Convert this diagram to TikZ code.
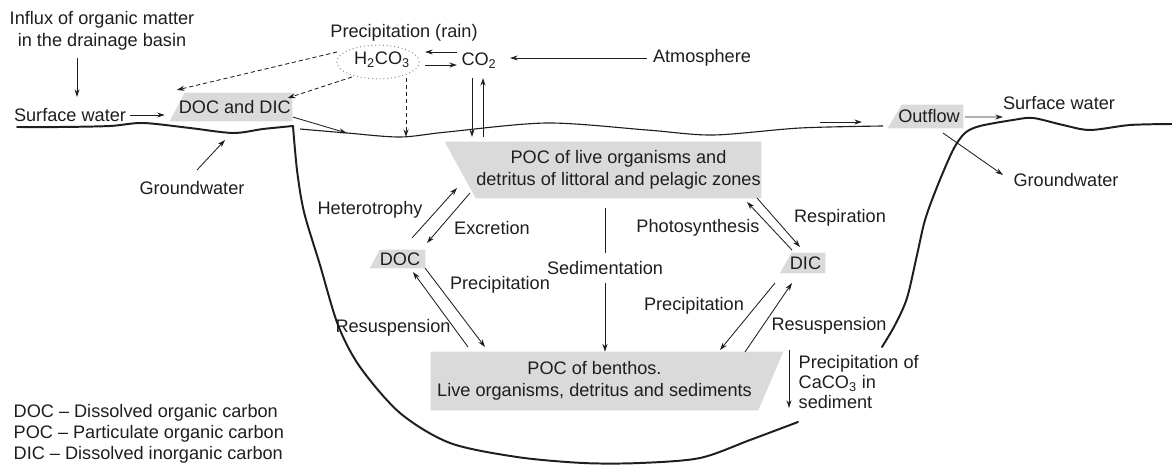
\documentclass[tikz,border=0pt]{standalone}
\usepackage{fontspec}
\setsansfont{Liberation Sans}
\usepackage{tikz}
\usetikzlibrary{arrows.meta, calc, backgrounds}
\definecolor{Ink}{HTML}{1E1E1E}
\definecolor{BoxGray}{HTML}{DADADA}
\definecolor{Dots}{HTML}{8A8A8A}

\begin{document}
\begin{tikzpicture}[
  x=0.025cm, y=-0.025cm,
  font=\sffamily\fontsize{12.9}{15.8}\selectfont,
  lbl/.style={text=Ink, inner sep=1pt, align=center},
  pool/.style={text=Ink, inner sep=0pt, align=center},
  arrow/.style={-{Stealth[length=5.5pt, width=3.6pt]}, line width=0.6pt, draw=Ink},
  rain/.style={arrow, dash pattern=on 3pt off 2pt},
  shore/.style={line width=1.4pt, draw=Ink, line cap=round},
  surface/.style={line width=0.8pt, draw=Ink}
]
\useasboundingbox (0,0) rectangle (1172,466);

\node[lbl] (influx) at (102,31) {Influx of organic matter\\in the drainage basin};
\node[lbl] (precip) at (404,33) {Precipitation (rain)};
\node[lbl] (h2co3) at (382,60) {H\textsubscript{2}CO\textsubscript{3}};
\node[lbl] (co2) at (479,61) {CO\textsubscript{2}};
\node[lbl] (atm) at (702,58) {Atmosphere};
\node[lbl] (surfL) at (70,115) {Surface water};
\node[lbl] (grwL) at (192,188) {Groundwater};
\node[lbl] (surfR) at (1059,103) {Surface water};
\node[lbl] (grwR) at (1066,180) {Groundwater};

\node[pool, minimum width=2.8625cm, minimum height=0.7cm] (docdic) at (234.75,107) {DOC and DIC};
\node[pool, minimum width=7.125cm, minimum height=1.4cm] (poctop) at (618.5,170) {POC of live organisms and\\detritus of littoral and pelagic zones};
\node[pool, minimum width=1.25cm, minimum height=0.45cm] (doc) at (400,259) {DOC};
\node[pool, minimum width=0.975cm, minimum height=0.5cm] (dic) at (805.5,263) {DIC};
\node[pool, minimum width=8.175cm, minimum height=1.45cm] (pocben) at (594.5,381) {POC of benthos.\\Live organisms, detritus and sediments};
\node[pool, minimum width=1.7cm, minimum height=0.575cm] (outflow) at (929,116.5) {Outflow};

\node[lbl] (hetero) at (370,210) {Heterotrophy};
\node[lbl] (excr) at (492,228) {Excretion};
\node[lbl] (photo) at (698,228) {Photosynthesis};
\node[lbl] (resp) at (840,218) {Respiration};
\node[lbl] (precipL) at (500,285) {Precipitation};
\node[lbl, inner ysep=6pt] (sedim) at (605,268) {Sedimentation};
\node[lbl] (precipR) at (694,306) {Precipitation};
\node[lbl] (resuspL) at (393,328) {Resuspension};
\node[lbl] (resuspR) at (829,326) {Resuspension};
\node[lbl, anchor=west, align=left, font=\sffamily\fontsize{12.9}{14.2}\selectfont] (caco3) at (797,382) {Precipitation of\\CaCO\textsubscript{3} in\\sediment};
\node[lbl, anchor=west, align=left, font=\sffamily\fontsize{12.9}{14.9}\selectfont] (legend) at (12,434) {DOC -- Dissolved organic carbon\\POC -- Particulate organic carbon\\DIC -- Dissolved inorganic carbon};

\begin{scope}[on background layer]
\fill[BoxGray] ($(docdic.north west)+(7.5,0)$) -- (docdic.north east) -- (docdic.south east) -- ($(docdic.south west)+(-7.5,0)$) -- cycle;
\fill[BoxGray] ($(poctop.north west)+(-31,0)$) -- (poctop.north east) -- (poctop.south east) -- (poctop.south west) -- cycle;
\fill[BoxGray] ($(doc.north west)+(5,0)$) -- (doc.north east) -- (doc.south east) -- ($(doc.south west)+(-5,0)$) -- cycle;
\fill[BoxGray] ($(dic.north west)+(6,0)$) -- (dic.north east) -- (dic.south east) -- ($(dic.south west)+(-6,0)$) -- cycle;
\fill[BoxGray] (pocben.north west) -- ($(pocben.north east)+(25,0)$) -- (pocben.south east) -- (pocben.south west) -- cycle;
\fill[BoxGray] ($(outflow.north west)+(7,0)$) -- (outflow.north east) -- (outflow.south east) -- ($(outflow.south west)+(-7,0)$) -- cycle;
\end{scope}

\draw[shore] plot[smooth] coordinates {(17,127) (60,127) (110,126) (143,123) (190,128) (233,133) (263,129) (293,126)};
\draw[shore] plot[smooth] coordinates {(293,126) (297,170) (304,212) (320,265) (338,325) (360,367) (400,413) (450,443) (517,457) (583,463) (640,463) (700,458) (750,440) (798,422)};
\draw[shore] plot[smooth] coordinates {(882,347) (895,325) (907,298) (917,255) (925,220) (937,187) (953,150) (965,133) (980,126) (1013,120) (1033,118) (1063,125) (1090,130) (1130,125) (1172,124)};
\draw[surface] plot[smooth] coordinates {(300,129) (347,133) (400,137) (447,132) (547,123) (647,130) (713,135) (800,128) (883,126)};

\draw[Dots, dotted, line width=0.7pt] ($(h2co3)+(-4,2)$) ellipse [x radius=1.03cm, y radius=0.42cm];

\draw[arrow] ($(influx)+(-25,27)$) -- ($(surfL)+(7,-18)$);
\draw[arrow] ($(surfL)+(60,0)$) -- ($(docdic)+(-70,8)$);
\draw[arrow] ($(grwL)+(5,-18)$) -- ($(grwL)+(33,-48)$);
\draw[arrow] ($(docdic)+(58,10)$) -- ($(docdic)+(112,26)$);
\draw[rain] ($(h2co3)+(-45,-8)$) -- ($(docdic)+(-58,-17)$);
\draw[rain] ($(h2co3)+(-30,17)$) -- ($(docdic)+(53,-9)$);
\draw[rain] ($(h2co3)+(24,18)$) -- ($(h2co3)+(24,77)$);
\draw[arrow] ($(co2)+(-22,-9)$) -- ($(h2co3)+(43,-8)$);
\draw[arrow] ($(h2co3)+(43,5)$) -- ($(co2)+(-22,4)$);
\draw[arrow] ($(atm)+(-55,0)$) -- ($(co2)+(31,-3)$);
\draw[arrow] ($(co2)+(-7,17)$) -- ($(co2)+(-7,76)$);
\draw[arrow] ($(co2)+(4,76)$) -- ($(co2)+(4,17)$);

\draw[arrow] ($(doc)+(12,-21)$) -- ($(poctop)+(-161.5,18)$);
\draw[arrow] ($(poctop)+(-148.5,23)$) -- ($(doc)+(27,-16)$);
\draw[arrow] ($(doc)+(25,9)$) -- ($(pocben)+(-109.5,-34)$);
\draw[arrow] ($(pocben)+(-126.5,-34)$) -- ($(doc)+(13,13)$);
\draw[line width=0.6pt, draw=Ink] ($(sedim.north |- poctop.south)+(0,10)$) -- (sedim.north);
\draw[arrow] (sedim.south) -- (sedim.south |- pocben.north);
\draw[arrow] ($(dic)+(-13.5,-13)$) -- ($(poctop)+(128.5,32)$);
\draw[arrow] ($(poctop)+(138.5,28)$) -- ($(dic)+(-5.5,-16)$);
\draw[arrow] ($(dic)+(-30.5,20)$) -- ($(pocben)+(125.5,-31)$);
\draw[arrow] ($(pocben)+(150.5,-29)$) -- ($(dic)+(-13.5,20)$);
\draw[arrow] ($(caco3.west)+(-8,-32)$) -- ($(caco3.west)+(-8,26)$);

\draw[arrow] ($(outflow)+(-109,5.5)$) -- ($(outflow)+(-67,5.5)$);
\draw[arrow] ($(outflow)+(36,0.5)$) -- ($(surfR)+(-56,14)$);
\draw[arrow] ($(outflow)+(14,16.5)$) -- ($(grwR)+(-63,-5)$);
\end{tikzpicture}
\end{document}
